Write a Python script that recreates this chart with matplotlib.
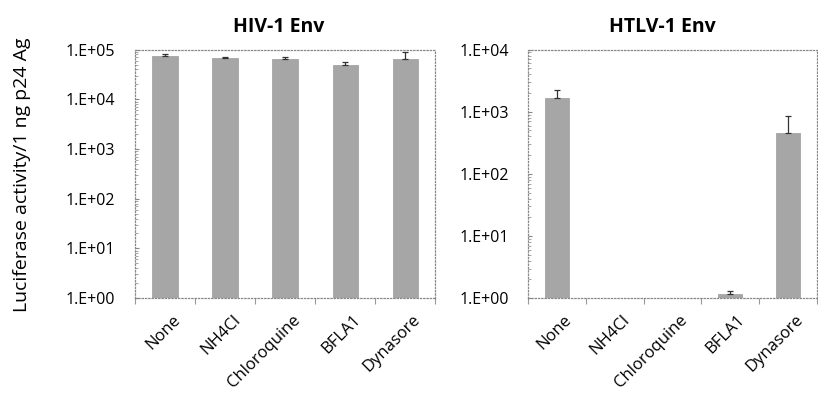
import matplotlib
matplotlib.use("Agg")
import matplotlib.pyplot as plt
import numpy as np

plt.rcParams['font.family'] = ['Open Sans', 'DejaVu Sans']

treatments = ["None", "NH4Cl", "Chloroquine", "BFLA1", "Dynasore"]

# luciferase activity per 1 ng p24 and upper error bar ends
hiv_mean = [75000, 68500, 64500, 49000, 63700]
hiv_top = [81000, 72000, 70000, 57000, 88000]
htlv_mean = [1670, 1.0, 1.0, 1.17, 455]
htlv_top = [2280, 1.0, 1.0, 1.32, 845]

fig = plt.figure(figsize=(8.18, 3.97), dpi=100)
ax1 = fig.add_axes([0.165, 0.249, 0.367, 0.626])
ax2 = fig.add_axes([0.6455, 0.249, 0.353, 0.626])

bar_color = "#a6a6a6"


def draw_panel(ax, mean, top, ymax, title, title_x):
    x = np.arange(len(treatments))
    mean = np.array(mean, dtype=float)
    err = np.array(top) - mean
    ax.bar(x, mean, width=0.42, color=bar_color, edgecolor="#9a9a9a",
           linewidth=0.5, zorder=2)
    # only bars with a measurable spread get an error bar
    m = err > 0
    ax.errorbar(x[m], mean[m], yerr=[np.zeros(m.sum()), err[m]], fmt="none",
                ecolor="#333333", elinewidth=0.9, capsize=2.5, capthick=0.9,
                zorder=3)
    ax.set_yscale("log")
    ax.set_ylim(1, ymax)
    ax.set_xlim(-0.5, len(treatments) - 0.5)
    decades = 10.0 ** np.arange(0, int(np.log10(ymax)) + 1)
    ax.set_yticks(decades)
    ax.set_yticklabels(["1.E+%02d" % int(np.log10(d)) for d in decades])
    ax.tick_params(axis="y", which="major", direction="in", length=3,
                   color="#888888", labelsize=11.5, pad=14)
    ax.tick_params(axis="y", which="minor", direction="in", length=2,
                   color="#999999")
    # category boundary marks below the axis
    ax.set_xticks(np.arange(len(treatments) + 1) - 0.5, minor=False)
    ax.set_xticklabels([])
    ax.tick_params(axis="x", which="major", direction="out", length=4,
                   color="#999999")
    for i, name in enumerate(treatments):
        ax.text(i + 0.12, -0.055, name, transform=ax.get_xaxis_transform(),
                rotation=45, ha="right", va="top", rotation_mode="anchor",
                fontsize=12)
    for s in ax.spines.values():
        s.set_linestyle(":")
        s.set_color("#888888")
        s.set_linewidth(0.9)
    ax.set_title(title, fontsize=14, fontweight="bold", pad=13, x=title_x)


draw_panel(ax1, hiv_mean, hiv_top, 1e5, "HIV-1 Env", 0.48)
draw_panel(ax2, htlv_mean, htlv_top, 1e4, "HTLV-1 Env", 0.465)

fig.text(0.027, 0.56, "Luciferase activity/1 ng p24 Ag", rotation=90,
         ha="center", va="center", fontsize=14)

fig.savefig("out.png", dpi=100)
